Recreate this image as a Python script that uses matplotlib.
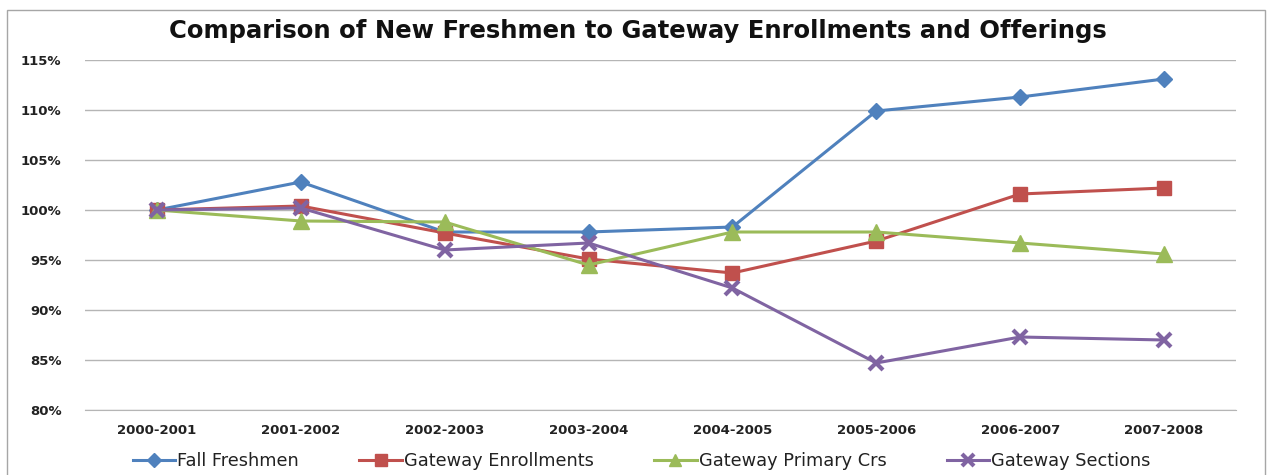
import matplotlib
matplotlib.use("Agg")
import matplotlib.pyplot as plt
from matplotlib.patches import Rectangle
from matplotlib.ticker import FuncFormatter

years = ["2000-2001", "2001-2002", "2002-2003", "2003-2004",
         "2004-2005", "2005-2006", "2006-2007", "2007-2008"]
fall_freshmen = [100.0, 102.8, 97.8, 97.8, 98.3, 109.9, 111.3, 113.1]
gateway_enrollments = [100.0, 100.4, 97.7, 95.1, 93.7, 96.9, 101.6, 102.2]
gateway_primary = [100.0, 98.9, 98.8, 94.5, 97.8, 97.8, 96.7, 95.6]
gateway_sections = [100.0, 100.2, 96.0, 96.7, 92.2, 84.7, 87.3, 87.0]
y_ticks = [80, 85, 90, 95, 100, 105, 110, 115]

plt.rcParams['font.family'] = ['DejaVu Sans']

W, H = 1268, 475
fig = plt.figure(figsize=(W / 100, H / 100), dpi=100)
fig.patch.set_facecolor("white")

# outer frame
fig.add_artist(Rectangle((7 / W, -0.01), (1265 - 7) / W, (H - 10) / H + 0.01,
                         transform=fig.transFigure, fill=False,
                         edgecolor="#a6a6a6", linewidth=1.0))

ax = fig.add_axes([85 / W, 1 - 410 / H, (1236 - 85) / W, 350 / H])
x = list(range(len(years)))

series = [
    ("Fall Freshmen", fall_freshmen, "#4F81BD", "D", 8),
    ("Gateway Enrollments", gateway_enrollments, "#C0504D", "s", 10),
    ("Gateway Primary Crs", gateway_primary, "#9BBB59", "^", 11),
    ("Gateway Sections", gateway_sections, "#8064A2", "X", 10),
]
for name, vals, col, mk, ms in series:
    if mk == "X":
        ax.plot(x, vals, color=col, linewidth=2.2, marker="x", markersize=ms,
                markeredgewidth=3, label=name)
    else:
        ax.plot(x, vals, color=col, linewidth=2.2, marker=mk, markersize=ms,
                markeredgecolor=col, label=name)

ax.set_xlim(-0.5, len(years) - 0.5)
ax.set_ylim(80, 115)
ax.set_yticks(y_ticks)
ax.yaxis.set_major_formatter(FuncFormatter(lambda v, p: f"{v:.0f}%"))
ax.set_xticks(x)
ax.set_xticklabels(years)
ax.grid(axis="y", color="#b5b5b5", linewidth=1.0)
ax.set_axisbelow(True)
for s in ["top", "right", "left"]:
    ax.spines[s].set_visible(False)
ax.spines["bottom"].set_color("#b5b5b5")
ax.tick_params(axis="both", length=0, labelsize=9.5, colors="#222222")
ax.tick_params(axis="y", pad=17)
ax.tick_params(axis="x", pad=10)
for lab in ax.get_xticklabels() + ax.get_yticklabels():
    lab.set_fontweight("bold")

fig.text(638 / W, 1 - 31 / H,
         "Comparison of New Freshmen to Gateway Enrollments and Offerings",
         ha="center", va="center", fontsize=17.5, fontweight="bold", color="#111111")

fig.legend(loc="center", bbox_to_anchor=(0.506, 1 - 461 / H), ncol=4,
           frameon=False, fontsize=12.8, handlelength=2.4, columnspacing=3.4,
           handletextpad=0.1, markerscale=0.85, labelcolor="#222222")

fig.savefig("out.png", dpi=100, facecolor="white")
